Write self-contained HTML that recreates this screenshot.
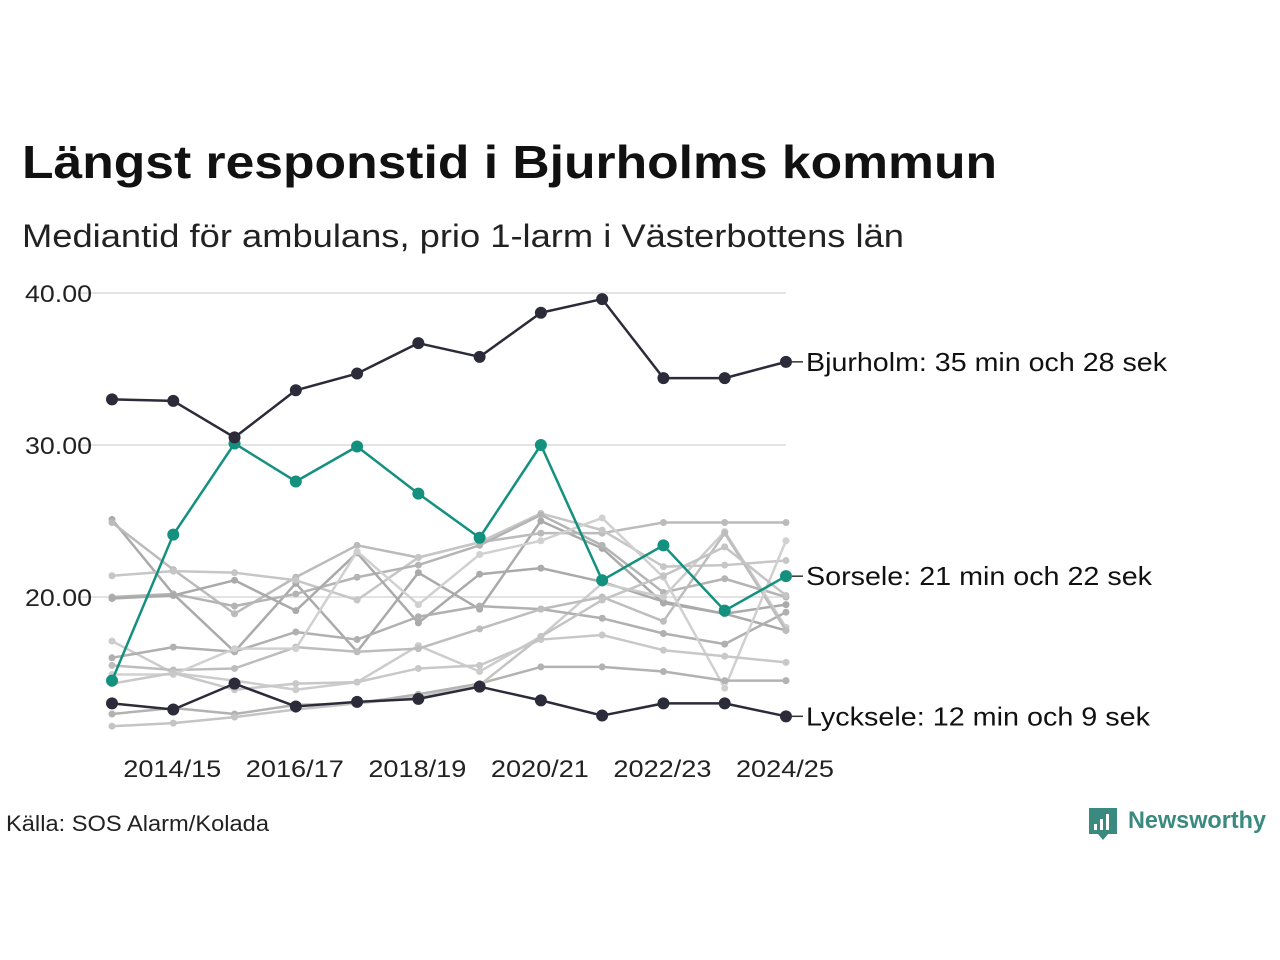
<!DOCTYPE html>
<html><head><meta charset="utf-8"><style>
body{margin:0;background:#fff;width:1280px;height:960px;overflow:hidden;font-family:"Liberation Sans",sans-serif}
svg{position:absolute;left:0;top:0}
</style></head><body>
<svg id="c" width="1280" height="960">
<text x="22" y="178" font-size="46" font-weight="bold" fill="#111" textLength="975" lengthAdjust="spacingAndGlyphs">Längst responstid i Bjurholms kommun</text>
<text x="22" y="247" font-size="32" fill="#222" textLength="882" lengthAdjust="spacingAndGlyphs">Mediantid för ambulans, prio 1-larm i Västerbottens län</text>
<text x="6" y="831" font-size="22" fill="#222" textLength="263" lengthAdjust="spacingAndGlyphs">Källa: SOS Alarm/Kolada</text>
<g>
<path d="M1089 808h28v26h-9l-5 6-5-6h-9z" fill="#3a8a80"/>
<rect x="1094" y="824" width="3" height="6" fill="#fff"/><rect x="1100" y="819" width="3" height="11" fill="#fff"/><rect x="1106" y="814" width="3" height="16" fill="#fff"/>
<text x="1128" y="828" font-size="24" font-weight="bold" fill="#3a8a80" textLength="138" lengthAdjust="spacingAndGlyphs">Newsworthy</text>
</g>
<g id="grid"></g><g id="gray"></g><g id="hl"></g>
</svg>
<script>
const categories=["2013/14","2014/15","2015/16","2016/17","2017/18","2018/19","2019/20","2020/21","2021/22","2022/23","2023/24","2024/25"];
const xTickLabels=["2014/15","2016/17","2018/19","2020/21","2022/23","2024/25"];
const yTicks=[20,30,40];
const bjurholm=[33.0,32.9,30.5,33.6,34.7,36.7,35.8,38.7,39.6,34.4,34.4,35.47];
const sorsele=[14.5,24.1,30.1,27.6,29.9,26.8,23.9,30.0,21.1,23.4,19.1,21.37];
const lycksele=[13.0,12.6,14.3,12.8,13.1,13.3,14.1,13.2,12.2,13.0,13.0,12.15];
const grayA=[25.1,20.2,16.4,20.9,16.4,21.6,19.2,25.0,23.2,19.6,18.9,17.8];
const grayB=[24.9,21.8,18.9,21.3,23.4,22.6,23.6,24.2,24.2,24.9,24.9,24.9];
const grayC=[21.4,21.7,21.6,21.1,19.8,22.6,23.6,25.5,24.4,22.0,22.1,22.4];
const grayD=[20.0,20.2,19.4,20.2,21.3,22.1,23.4,25.4,23.4,20.3,21.2,20.0];
const grayE=[19.9,20.1,21.1,19.1,22.9,18.3,21.5,21.9,21.0,19.7,18.9,19.5];
const grayF=[17.1,15.0,14.5,13.9,14.4,16.8,15.1,17.4,20.9,20.0,24.3,18.0];
const grayG=[16.0,16.7,16.4,17.7,17.2,18.7,19.4,19.2,18.6,17.6,16.9,19.0];
const grayH=[15.5,15.2,15.3,16.7,16.4,16.6,17.9,19.2,20.0,18.4,24.2,17.8];
const grayI=[14.9,14.9,16.6,16.6,23.0,19.5,22.8,23.7,25.2,21.3,14.0,23.7];
const grayJ=[14.3,15.0,13.9,14.3,14.4,15.3,15.5,17.2,17.5,16.5,16.1,15.7];
const grayK=[12.3,12.7,12.3,12.9,13.0,13.6,14.3,15.4,15.4,15.1,14.5,14.5];
const grayL=[11.5,11.7,12.1,12.6,13.0,13.4,14.2,17.4,19.8,21.4,23.3,20.1];
const grays=[grayA,grayB,grayC,grayD,grayE,grayF,grayG,grayH,grayI,grayJ,grayK,grayL];
const grayColors=["#aaa","#bbb","#c6c6c6","#b4b4b4","#aaa","#ccc","#b0b0b0","#bdbdbd","#d0d0d0","#c8c8c8","#b2b2b2","#c4c4c4"];
const NS="http://www.w3.org/2000/svg";
const x=i=>112+i*61.27;
const y=v=>597-(v-20)*15.2;
function mk(t,a,p){const e=document.createElementNS(NS,t);for(const k in a)e.setAttribute(k,a[k]);p.appendChild(e);return e;}
const grid=document.getElementById('grid');
yTicks.forEach(t=>{
 const l=mk('line',{x1:80,x2:786,y1:y(t),y2:y(t),stroke:'#e3e3e3','stroke-width':2},grid);
 
 
 const tx=mk('text',{x:25,y:y(t)+9,'font-size':24,fill:'#222',textLength:67,lengthAdjust:'spacingAndGlyphs'},grid);
 tx.textContent=t.toFixed(2);
 
 
});
xTickLabels.forEach(lb=>{
 const i=categories.indexOf(lb);
 const tx=mk('text',{x:x(i)-1,y:777,'font-size':24,fill:'#222','text-anchor':'middle',textLength:98,lengthAdjust:'spacingAndGlyphs'},grid);
 tx.textContent=lb;
 
 
});
function series(vals,col,w,r,parent,name){
 const g=mk('g',{},parent);
 
 
 mk('polyline',{points:vals.map((v,i)=>x(i)+','+y(v)).join(' '),fill:'none',stroke:col,'stroke-width':w,'stroke-linejoin':'round'},g);
 vals.forEach((v,i)=>{const c=mk('circle',{cx:x(i),cy:y(v),r:r,fill:col},g);
  
  });
}
const gg=document.getElementById('gray');
grays.forEach((s,k)=>series(s,grayColors[k],2.5,3.5,gg,'gray-series-'+k));
const hl=document.getElementById('hl');
series(lycksele,'#2b2b3a',2.5,6,hl,'lycksele-series');
series(sorsele,'#14907f',2.5,6,hl,'sorsele-series');
series(bjurholm,'#2b2b3a',2.5,6,hl,'bjurholm-series');
[[bjurholm,'Bjurholm: 35 min och 28 sek',361],[sorsele,'Sorsele: 21 min och 22 sek',346],[lycksele,'Lycksele: 12 min och 9 sek',344]].forEach(([s,t,w])=>{
 const yy=y(s[11]);
 mk('line',{x1:792,x2:803,y1:yy,y2:yy,stroke:'#333','stroke-width':1.5},hl);
 const tx=mk('text',{x:806,y:yy+9,'font-size':26,fill:'#111',textLength:w,lengthAdjust:'spacingAndGlyphs'},hl);
 tx.textContent=t;
 
 
});
</script>
</body></html>
